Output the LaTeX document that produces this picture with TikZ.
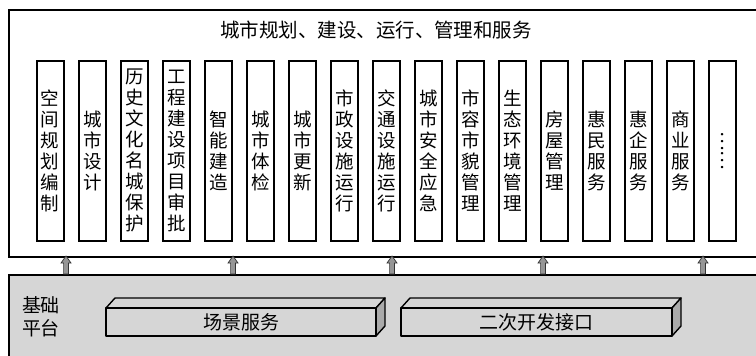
\documentclass[tikz,border=0pt]{standalone}
\usepackage{fontspec}
\usetikzlibrary{calc}
\newfontfamily\cjk{Noto Sans CJK SC}
\definecolor{bggray}{RGB}{214,214,214}
\definecolor{sidegray}{RGB}{170,170,170}
\definecolor{arrgray}{RGB}{150,150,150}
\begin{document}
\begin{tikzpicture}[x=1pt,y=-1pt,
  colbox/.style={draw=black,line width=1.5pt,fill=white,minimum width=27pt,minimum height=180pt,inner sep=0pt,anchor=north west},
  coltext/.style={font=\cjk\fontsize{18.5}{21}\selectfont,align=center,inner sep=0pt},
  titletext/.style={font=\cjk\fontsize{19.5}{22}\selectfont,inner sep=0pt},
  bartext/.style={font=\cjk\fontsize{19}{22}\selectfont,inner sep=0pt},
  barline/.style={draw=black,line width=1.4pt,line join=round},
  uparrow/.style={fill=arrgray,draw=black!80,line width=0.7pt}]
\useasboundingbox (0,0) rectangle (756,356);
\begin{scope}
\clip (0,0) rectangle (756,356);
% top box
\node[draw=black,line width=1.5pt,fill=white,minimum width=760pt,minimum height=247pt,anchor=north west,inner sep=0pt] (top) at (8,9) {};
% base box
\node[draw=black,line width=1.5pt,fill=bggray,minimum width=760pt,minimum height=100pt,anchor=north west,inner sep=0pt] (base) at (8,274) {};
\end{scope}
\node[titletext] (title) at (376,30) {城市规划、建设、运行、管理和服务};
% columns
\foreach \i/\t in {0/空\\间\\规\\划\\编\\制,1/城\\市\\设\\计,2/历\\史\\文\\化\\名\\城\\保\\护,3/工\\程\\建\\设\\项\\目\\审\\批,4/智\\能\\建\\造,5/城\\市\\体\\检,6/城\\市\\更\\新,7/市\\政\\设\\施\\运\\行,8/交\\通\\设\\施\\运\\行,9/城\\市\\安\\全\\应\\急,10/市\\容\\市\\貌\\管\\理,11/生\\态\\环\\境\\管\\理,12/房\\屋\\管\\理,13/惠\\民\\服\\务,14/惠\\企\\服\\务,15/商\\业\\服\\务}{
  \node[colbox] (c\i) at ({36+42*\i},60) {};
  \node[coltext] (t\i) at (c\i.center) {\t};
}
\node[colbox] (c16) at ({36+42*16},60) {};
\node[coltext,rotate=-90] (t16) at (c16.center) {……};
% arrows
\foreach \x [count=\k] in {66,233,392,543,703}{
  \coordinate (ab\k) at (\x,274);
  \coordinate (at\k) at (\x,256);
  \draw[uparrow] ($(ab\k)+(-2.4,0)$) -- ($(ab\k)+(2.4,0)$) -- ($(at\k)+(2.4,7)$) -- ($(at\k)+(5,7)$) -- (at\k) -- ($(at\k)+(-5,7)$) -- ($(at\k)+(-2.4,7)$) -- cycle;
}
% base label
\node[font=\cjk\fontsize{19}{23}\selectfont,align=left,inner sep=0pt] (blabel) at (41,317) {基础\\平台};
% bars
\foreach \n/\xa/\xb/\t in {b1/106/376/场景服务,b2/401/672/二次开发接口}{
  \fill[bggray] (\xa,308) rectangle (\xb,336);
  \filldraw[barline,fill=bggray] (\xa,308) -- ({\xa+9},298) -- ({\xb+9},298) -- (\xb,308) -- cycle;
  \filldraw[barline,fill=sidegray] (\xb,308) -- ({\xb+9},298) -- ({\xb+9},326) -- (\xb,336) -- cycle;
  \draw[barline] (\xa,308) rectangle (\xb,336);
  \node[bartext] (\n) at ({(\xa+\xb)/2},322) {\t};
}
\end{tikzpicture}
\end{document}
